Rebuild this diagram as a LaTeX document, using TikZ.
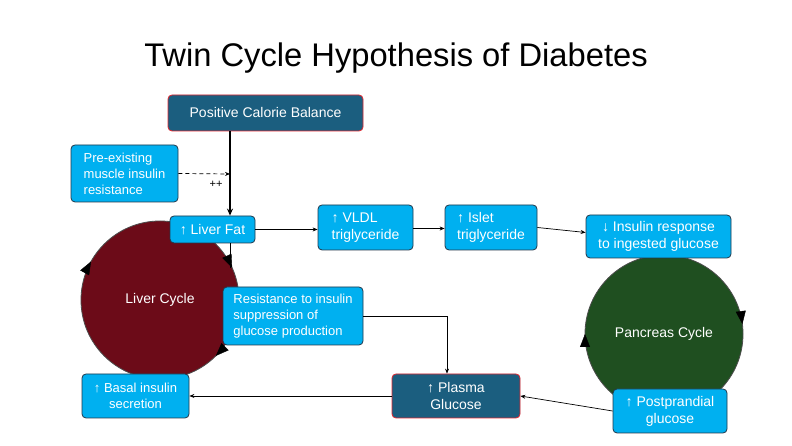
\documentclass[tikz,border=0pt]{standalone}
\usepackage{fontspec}
\setmainfont{Liberation Sans}
\usetikzlibrary{arrows.meta,decorations.markings}

\definecolor{skyblue}{HTML}{00B0F0}
\definecolor{boxline}{HTML}{23384A}
\definecolor{deepteal}{HTML}{1B5E7F}
\definecolor{edgered}{HTML}{E3262E}
\definecolor{liverred}{HTML}{6C0B18}
\definecolor{pancgreen}{HTML}{1F4F20}

\begin{document}
\begin{tikzpicture}[x=1pt,y=1pt,
    box/.style={draw=boxline,line width=0.8pt,fill=skyblue,rounded corners=4pt,
      text=white,align=center,inner sep=2pt,font=\fontsize{14}{17}\selectfont},
    smallbox/.style={box,font=\fontsize{13}{16}\selectfont},
    keybox/.style={box,draw=edgered,fill=deepteal},
    cyclenode/.style={circle,draw=black!70,line width=0.8pt,minimum size=158pt,
      inner sep=0pt,text=white,font=\fontsize{14}{17}\selectfont},
    link/.style={-{Stealth[length=5pt,width=4pt]},line width=0.7pt}]
  \useasboundingbox[fill=white] (0,0) rectangle (792,446);

  \node[anchor=base,font=\fontsize{32.7}{38}\selectfont] (title) at (396,379)
    {Twin Cycle Hypothesis of Diabetes};

  % the two cycles
  \node[cyclenode,fill=liverred] (liver) at (160,146) {Liver Cycle};
  \node[cyclenode,fill=pancgreen] (pancreas) at (664,112) {Pancreas Cycle};
  \path[postaction={decorate},decoration={markings,
      mark=at position 0.183 with {\arrow{Triangle[length=13pt,width=10pt]}},
      mark=at position 0.375 with {\arrow{Triangle[length=13pt,width=10pt]}},
      mark=at position 0.831 with {\arrow{Triangle[length=13pt,width=10pt]}}}]
    (liver.center) ++(90:79) arc[start angle=90,end angle=-270,radius=79];
  \path[postaction={decorate},decoration={markings,
      mark=at position 0.23 with {\arrow{Triangle[length=13pt,width=10pt]}},
      mark=at position 0.75 with {\arrow{Triangle[length=13pt,width=10pt]}}}]
    (pancreas.center) ++(90:79) arc[start angle=90,end angle=-270,radius=79];

  % boxes
  \node[keybox,minimum width=195pt,minimum height=36pt] (calorie) at (265.5,333)
    {Positive Calorie Balance};
  \node[smallbox,align=left,minimum width=107pt,minimum height=57pt] (muscle) at (124.5,272.5)
    {Pre-existing\\muscle insulin\\resistance};
  \node[box,minimum width=85pt,minimum height=27pt] (liverfat) at (212.5,216.5)
    {↑ Liver Fat};
  \node[box,align=left,minimum width=95pt,minimum height=45pt] (vldl) at (365.5,218.5)
    {↑ VLDL\\triglyceride};
  \node[box,align=left,minimum width=92pt,minimum height=45pt] (islet) at (491,218.5)
    {↑ Islet\\triglyceride};
  \node[box,minimum width=145pt,minimum height=43pt] (insresp) at (658.5,209.5)
    {↓ Insulin response\\to ingested glucose};
  \node[smallbox,align=left,minimum width=140pt,minimum height=58pt] (resist) at (293,130)
    {Resistance to insulin\\suppression of\\glucose production};
  \node[keybox,minimum width=128pt,minimum height=44pt] (plasma) at (456,50)
    {↑ Plasma\\Glucose};
  \node[smallbox,minimum width=107pt,minimum height=44pt] (basal) at (135.5,50)
    {↑ Basal insulin\\secretion};
  \node[box,minimum width=114pt,minimum height=44pt] (postp) at (670,35)
    {↑ Postprandial\\glucose};

  % connectors
  \coordinate (joint) at (230,272);
  \coordinate (lfin) at ([shift={(24:79)}]liver.center);
  \draw[-{Stealth[length=7pt,width=6pt]},line width=1.3pt]
    ([xshift=-35.5pt]calorie.south) -- ([xshift=17.5pt]liverfat.north);
  \draw[link,dash pattern=on 4pt off 3pt] (muscle.east) -- (joint);
  \node[font=\fontsize{11}{13}\selectfont] (plus) at (216,262) {++};
  \draw[line width=0.7pt] ([xshift=17.5pt]liverfat.south) -- (lfin -| joint);
  \draw[link] (liverfat.east) -- (liverfat.east -| vldl.west);
  \draw[link] ([yshift=-1pt]vldl.east) -- ([yshift=-1pt]islet.west);
  \draw[link] (islet.east) -- ([yshift=4pt]insresp.west);
  \draw[link] (resist.east) -| ([xshift=-9pt]plasma.north);
  \draw[link] (plasma.west) -- (basal.east);
  \draw[link] (postp.west) -- (plasma.east);
\end{tikzpicture}
\end{document}
